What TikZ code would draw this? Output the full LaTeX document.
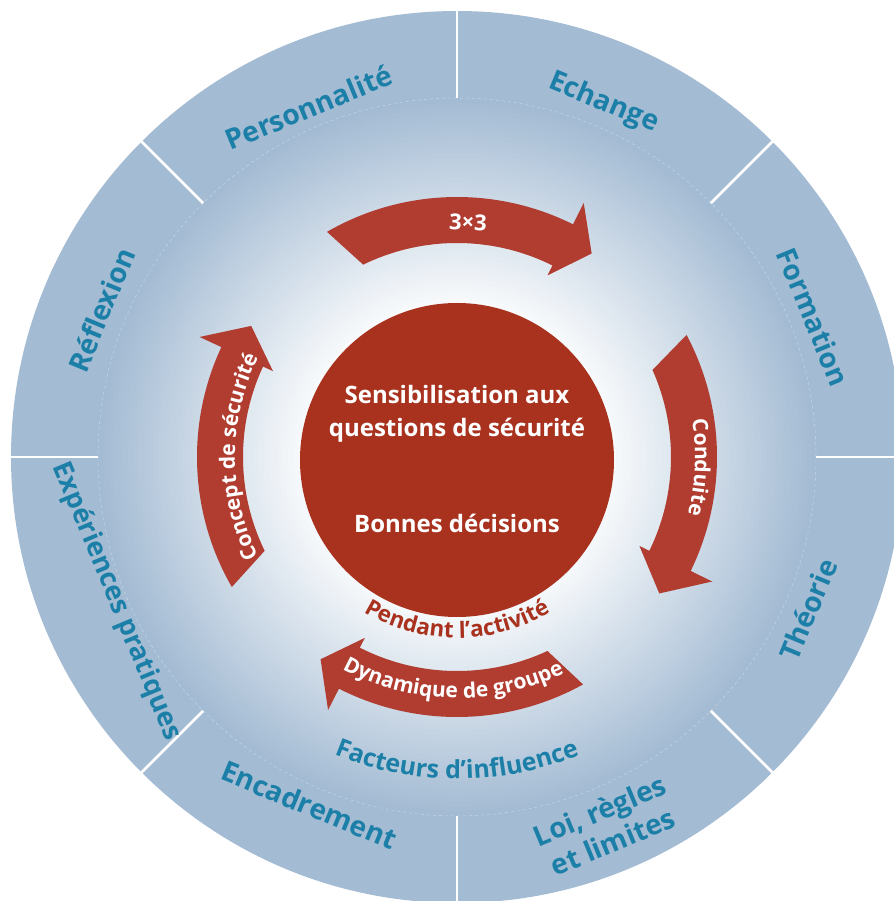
\documentclass[tikz,border=0pt]{standalone}
\usepackage{fontspec}
\setmainfont{Open Sans}
\usetikzlibrary{decorations.text}

\definecolor{ringblue}{HTML}{A3BBD3}
\definecolor{labelblue}{HTML}{1B7FA7}
\definecolor{hubred}{HTML}{A9321F}
\definecolor{arrowred}{HTML}{B13D31}
\newcommand{\arrowfont}{\fontsize{21}{21}\selectfont\bfseries}

\begin{document}
\begin{tikzpicture}[x=1pt, y=1pt,
    ringlabel/.style={font=\fontsize{28}{31}\selectfont\bfseries, text=labelblue, align=center, inner sep=0pt},
    hubtext/.style={font=\fontsize{24}{33}\selectfont\bfseries, text=white, align=center, inner sep=0pt},
    divider/.style={white, line width=2.5pt},
    arrowlabel/.style={decorate, decoration={text along path, text align=center, text={#1}}}]
\useasboundingbox (-457,-444) rectangle (436,457);

% outer ring and the glow inside it
\fill[ringblue] (0,0) circle (446);
\foreach \k in {0,...,44}{
    \pgfmathsetmacro\rr{359-5*\k}
    \pgfmathsetmacro\pc{max(0,(\rr-140)/2.19)}
    \fill[ringblue!\pc!white] (0,0) circle (\rr);
}
\draw[white, opacity=.4, dashed, line width=.5pt] (0,0) circle (359);
\foreach \a in {0,45,...,315}
    \draw[divider] (\a:359) -- (\a:452);

% ring labels
\node[ringlabel, rotate=22.5] (pers) at (113:380) {Personnalité};
\node[ringlabel, rotate=-22.5] (echange) at (67.5:383) {Echange};
\node[ringlabel, rotate=-67.5] (form) at (21.5:383) {Formation};
\node[ringlabel, rotate=67.5] (theo) at (-23.5:383) {Théorie};
\node[ringlabel, rotate=22.5, font=\fontsize{28}{34}\selectfont\bfseries] (loi) at (-68:398) {Loi, règles\\et limites};
\node[ringlabel, rotate=-22.5] (encad) at (-113:378) {Encadrement};
\node[ringlabel, rotate=-67.5, font=\fontsize{27}{30}\selectfont\bfseries] (exper) at (-157:370) {Expériences pratiques};
\node[ringlabel, rotate=67.5] (refl) at (157.5:385) {Réflexion};

% cycle arrows
\foreach \tail/\base/\tip in {118/63.5/56.5, 26/-26/-34, -63/-117/-124, 208/155/147.5}{
    \pgfmathsetmacro\tailout{\tail+2}
    \pgfmathsetmacro\tailin{\tail-2}
    \fill[arrowred] (\tailout:260) arc[start angle=\tailout, end angle=\base, radius=260]
        -- (\base:284) -- (\tip:244) -- (\base:203) -- (\base:214)
        arc[start angle=\base, end angle=\tailin, radius=214] -- cycle;
}
\node[font=\fontsize{22}{22}\selectfont\bfseries, text=white, rotate=-2.7] (threes) at (87.3:235) {3×3};
\path[arrowlabel={|\arrowfont\color{white}|Conduite}] (13:238) arc[start angle=13, end angle=-18, radius=238];
\path[arrowlabel={|\arrowfont\color{white}|Concept de sécurité}] (212:222) arc[start angle=212, end angle=148, radius=222];
\path[arrowlabel={|\arrowfont\color{white}|Dynamique de groupe}] (-127:241) arc[start angle=-127, end angle=-55, radius=241];

% hub
\node[circle, fill=hubred, minimum size=314pt, inner sep=0pt] (hub) at (0,-3) {};
\node[hubtext] (aware) at (0,43.5) {Sensibilisation aux\\questions de sécurité};
\node[hubtext] (decide) at (0,-66) {Bonnes décisions};
\path[arrowlabel={|\fontsize{22.5}{22.5}\selectfont\bfseries\color{hubred}|Pendant l’activité}] (-127:181) arc[start angle=-127, end angle=-53, radius=181];
\path[arrowlabel={|\fontsize{25}{25}\selectfont\bfseries\color{labelblue}|Facteurs d’influence}] (-118:322) arc[start angle=-118, end angle=-62, radius=322];
\end{tikzpicture}
\end{document}
